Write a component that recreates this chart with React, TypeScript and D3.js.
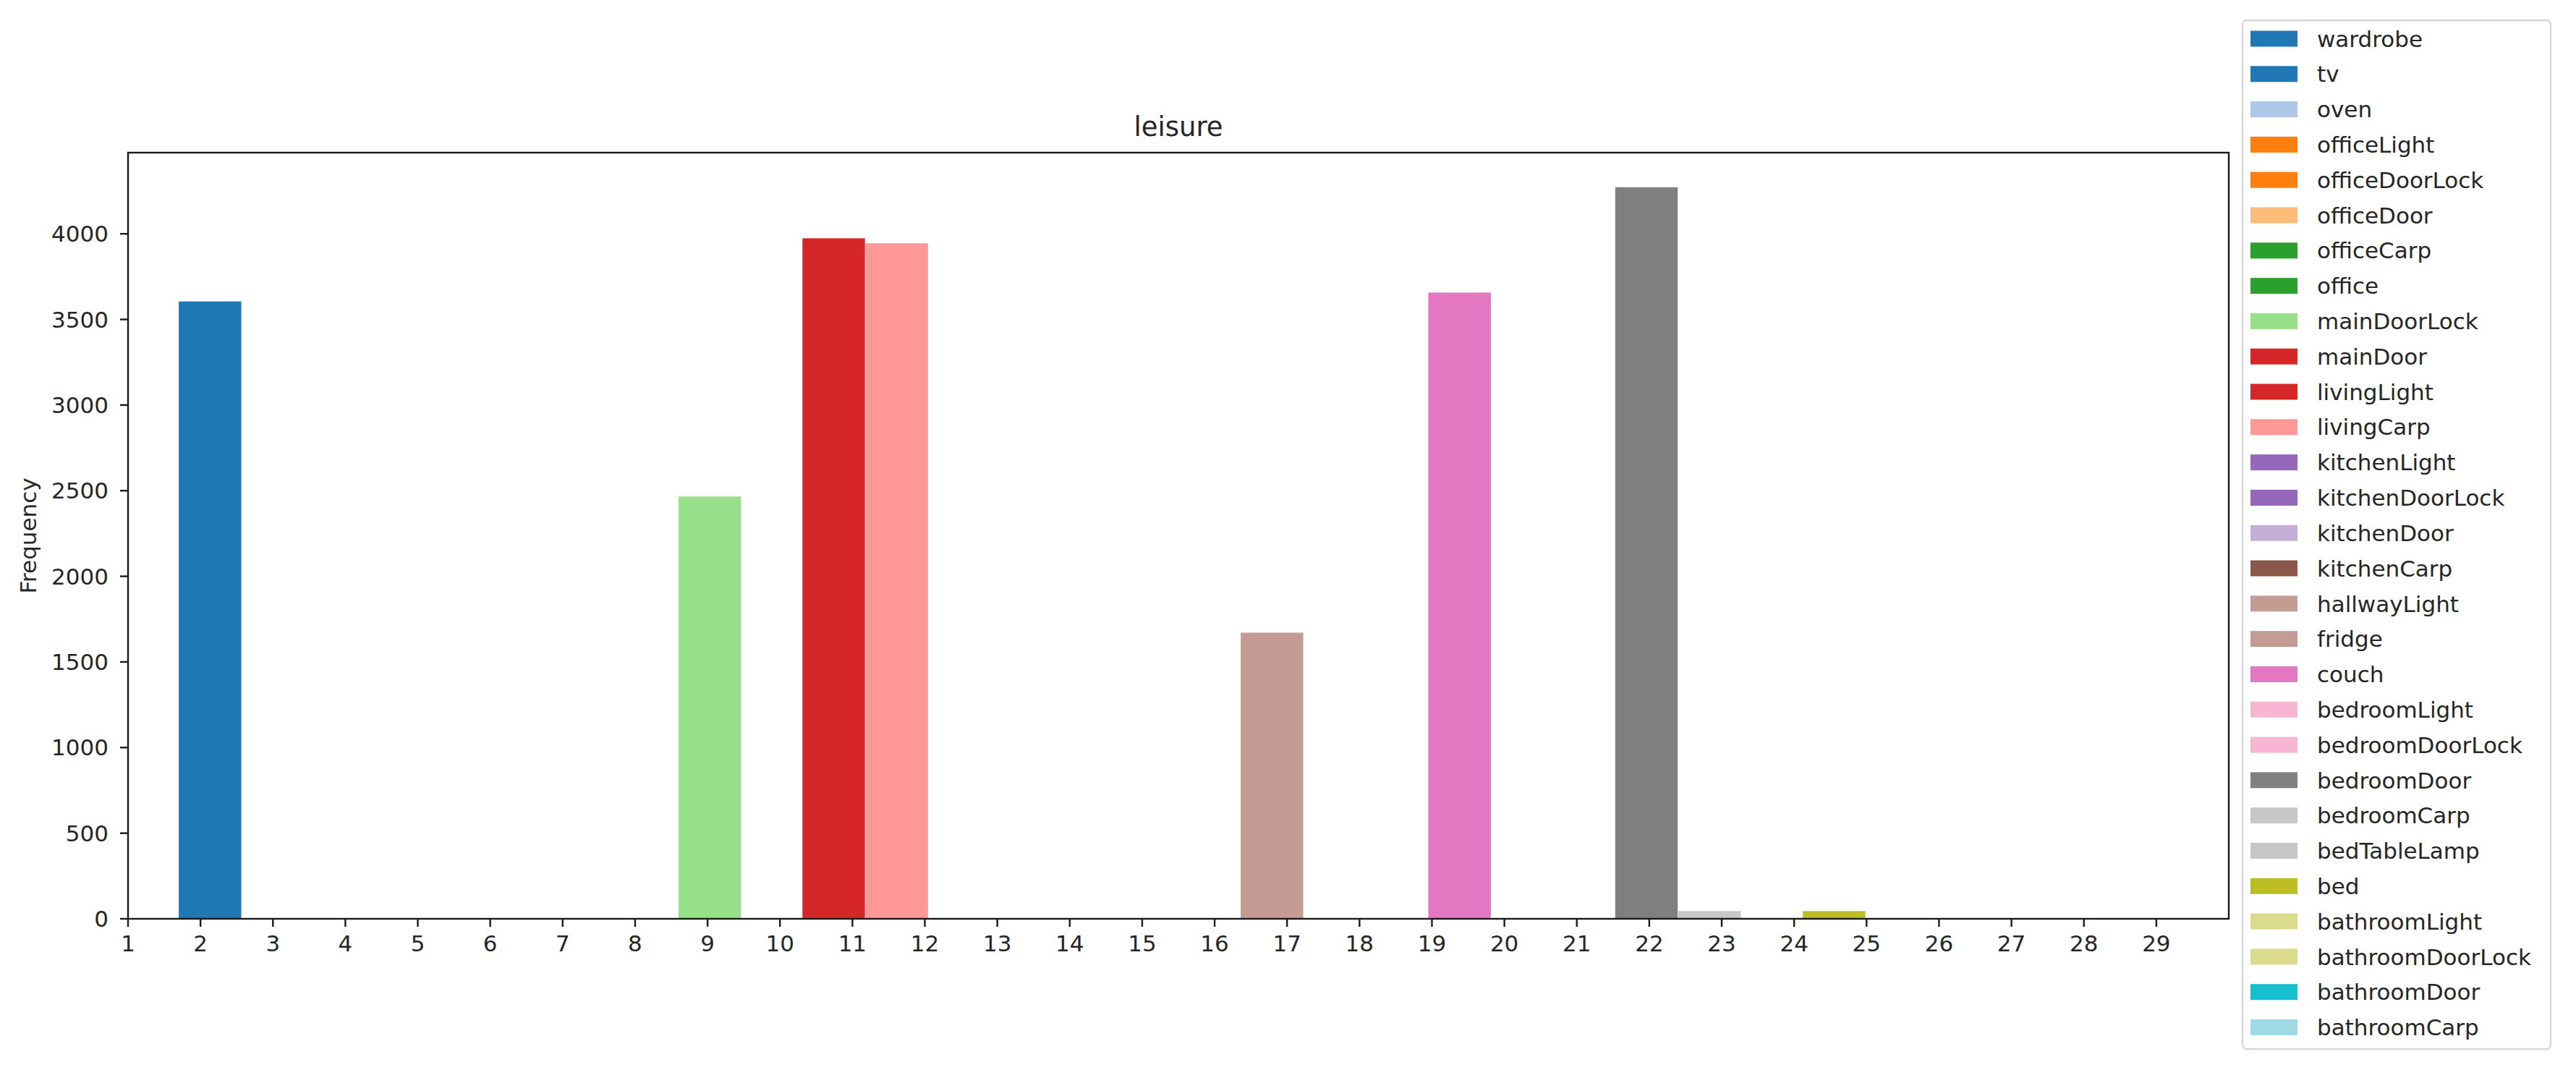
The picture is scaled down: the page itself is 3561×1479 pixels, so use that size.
import React from "react";
import * as d3 from "d3";

const sensors = [
  "wardrobe", "tv", "oven", "officeLight", "officeDoorLock", "officeDoor", "officeCarp", "office",
  "mainDoorLock", "mainDoor", "livingLight", "livingCarp", "kitchenLight", "kitchenDoorLock",
  "kitchenDoor", "kitchenCarp", "hallwayLight", "fridge", "couch", "bedroomLight", "bedroomDoorLock",
  "bedroomDoor", "bedroomCarp", "bedTableLamp", "bed", "bathroomLight", "bathroomDoorLock",
  "bathroomDoor", "bathroomCarp",
];
const sensorColors = [
  "#1f77b4", "#1f77b4", "#aec7e8", "#ff7f0e", "#ff7f0e", "#ffbb78", "#2ca02c", "#2ca02c",
  "#98df8a", "#d62728", "#d62728", "#ff9896", "#9467bd", "#9467bd",
  "#c5b0d5", "#8c564b", "#c49c94", "#c49c94", "#e377c2", "#f7b6d2", "#f7b6d2",
  "#7f7f7f", "#c7c7c7", "#c7c7c7", "#bcbd22", "#dbdb8d", "#dbdb8d",
  "#17becf", "#9edae5",
];

// bars: which sensor, bin start (x value), frequency
const barSensors = ["tv", "mainDoorLock", "livingLight", "livingCarp", "fridge", "couch", "bedroomDoor", "bedTableLamp", "bed"];
const barStarts = [1.70, 8.60, 10.31, 11.18, 16.36, 18.95, 21.53, 22.40, 24.12];
const barValues = [3605, 2466, 3974, 3945, 1671, 3657, 4272, 45, 45];
const binWidth = 0.863;

const xTicks = d3.range(1, 30);
const yTicks = [0, 500, 1000, 1500, 2000, 2500, 3000, 3500, 4000];
const yLimit = 4474;
const title = "leisure";
const yLabel = "Frequency";

const W = 3561, H = 1479;
const L = 177, R = 3081, T = 211, B = 1270;
const FONT = "'DejaVu Sans', sans-serif";

export default function App() {
  const x = d3.scaleLinear().domain([1, 30]).range([L, R]);
  const y = d3.scaleLinear().domain([0, yLimit]).range([B, T]);
  const colorOf = d3.scaleOrdinal<string, string>().domain(sensors).range(sensorColors);

  const legX = 3100, legY = 28, legW = 426, legH = 1422;
  const rowY = d3.scaleLinear().domain([0, sensors.length - 1]).range([53.5, 1420]);

  return (
    <svg width={W} height={H} style={{ position: "absolute", left: 0, top: 0, background: "#fff" }} fontFamily={FONT}>
      <rect x={0} y={0} width={W} height={H} fill="#fff" />
      {barSensors.map((s, i) => (
        <rect key={i} x={x(barStarts[i])} y={y(barValues[i])}
          width={x(barStarts[i] + binWidth) - x(barStarts[i])}
          height={y(0) - y(barValues[i])} fill={colorOf(s)} />
      ))}
      {/* frame */}
      <rect x={L} y={T} width={R - L} height={B - T} fill="none" stroke="#1a1a1a" strokeWidth={2.4} />
      {/* y ticks */}
      {yTicks.map((t) => (
        <g key={t}>
          <line x1={L - 11} x2={L} y1={y(t)} y2={y(t)} stroke="#1a1a1a" strokeWidth={2.4} />
          <text x={150} y={y(t)} dy="0.36em" textAnchor="end" fontSize={31} fill="#262626">{t}</text>
        </g>
      ))}
      {xTicks.map((t) => (
        <g key={t}>
          <line x1={x(t)} x2={x(t)} y1={B} y2={B + 11} stroke="#1a1a1a" strokeWidth={2.4} />
          <text x={x(t)} y={1315} textAnchor="middle" fontSize={31} fill="#262626">{t}</text>
        </g>
      ))}
      <text transform={`translate(38.5,${(T + B) / 2}) rotate(-90)`} textAnchor="middle" dominantBaseline="central" fontSize={31} fill="#262626">{yLabel}</text>
      <text x={(L + R) / 2} y={188} textAnchor="middle" fontSize={37} fill="#262626">{title}</text>
      {/* legend */}
      <rect x={legX} y={legY} width={legW} height={legH} rx={6} fill="#fff" fillOpacity={0.8} stroke="#d6d6d6" strokeWidth={2.4} />
      {sensors.map((s, i) => (
        <g key={s}>
          <rect x={3111} y={rowY(i) - 11} width={65} height={22} fill={colorOf(s)} />
          <text x={3203} y={rowY(i)} dy="0.36em" fontSize={31} fill="#262626">{s}</text>
        </g>
      ))}
    </svg>
  );
}
